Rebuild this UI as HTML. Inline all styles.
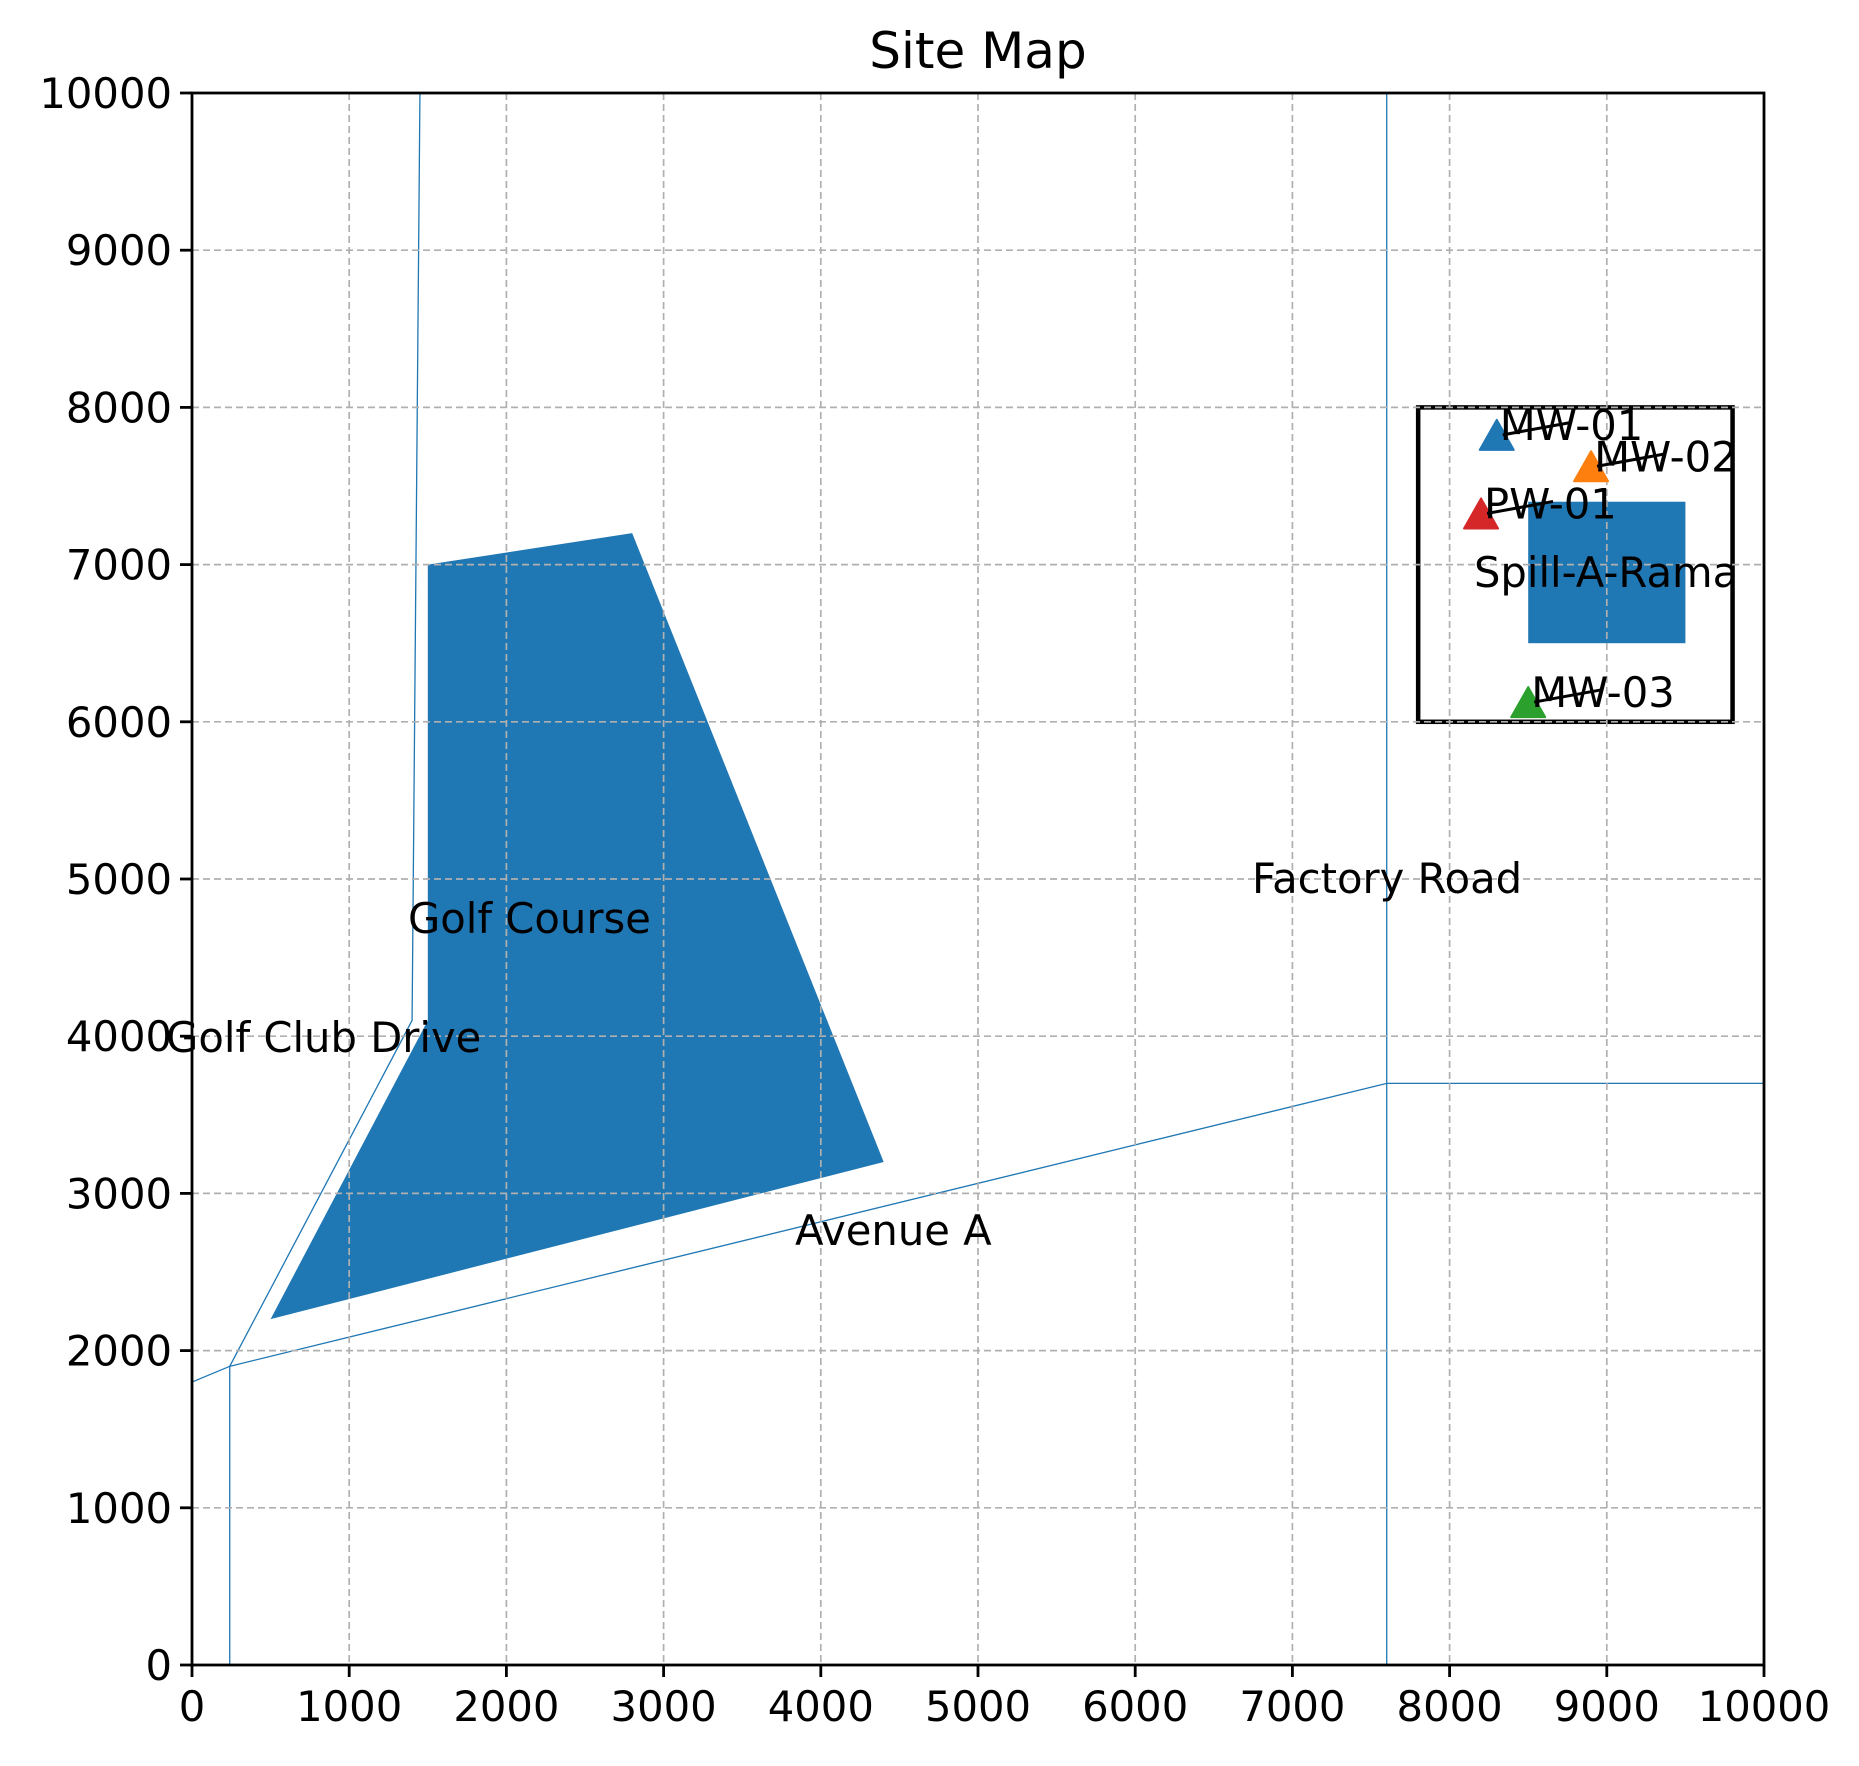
<!DOCTYPE html>
<html><head><meta charset="utf-8"><style>
html,body{margin:0;padding:0;background:#fff;}
svg{display:block;font-family:"DejaVu Sans","Liberation Sans",sans-serif;}
</style></head><body>
<svg id="chart" width="1859" height="1766" viewBox="0 0 1859 1766" xmlns="http://www.w3.org/2000/svg">
<rect width="1859" height="1766" fill="#fff"/>
<text x="978" y="68" font-size="50" text-anchor="middle">Site Map</text>
<g id="layer-patches"></g>
<g id="layer-grid"></g>
<g id="layer-marks"></g>
<g id="layer-axes"></g>
</svg>
<script>
const xTicks = [0,1000,2000,3000,4000,5000,6000,7000,8000,9000,10000];
const yTicks = [0,1000,2000,3000,4000,5000,6000,7000,8000,9000,10000];
const golfCourseX = [1500,2800,4400,500,1500];
const golfCourseY = [7000,7200,3200,2200,4100];
const golfClubDriveX = [1450,1400,240,240];
const golfClubDriveY = [10000,4100,1900,0];
const avenueAX = [0,240,7600,10000];
const avenueAY = [1800,1900,3700,3700];
const factoryRoadX = [7600,7600];
const factoryRoadY = [0,10000];
const siteBox = [7800,6000,9800,8000];
const spillRect = [8500,6500,9500,7400];
const wellNames = ["MW-01","MW-02","PW-01","MW-03"];
const wellX = [8300,8900,8200,8500];
const wellY = [7800,7600,7300,6100];
const wellColors = ["#1f77b4","#ff7f0e","#d62728","#2ca02c"];
const labelText = ["Golf Course","Golf Club Drive","Avenue A","Factory Road","Spill-A-Rama"];
const labelX = [1374,-165,3836,6743,8155];
const labelY = [4752,3995,2767,5006,6952];

const L=192,R=1764,T=93,B=1665;
const X=v=>L+(v/10000)*(R-L);
const Y=v=>B-(v/10000)*(B-T);
const NS="http://www.w3.org/2000/svg";
function mk(tag,parent){const e=document.createElementNS(NS,tag);parent.appendChild(e);return e;}
const gp=document.getElementById('layer-patches'),gg=document.getElementById('layer-grid'),gm=document.getElementById('layer-marks'),ga=document.getElementById('layer-axes');

let p=mk('polygon',gp);
p.setAttribute('points',golfCourseX.map((x,i)=>X(x)+','+Y(golfCourseY[i])).join(' '));
p.setAttribute('fill','#1f77b4');


let s=mk('rect',gp);
s.setAttribute('x',X(spillRect[0]));s.setAttribute('y',Y(spillRect[3]));
s.setAttribute('width',X(spillRect[2])-X(spillRect[0]));s.setAttribute('height',Y(spillRect[1])-Y(spillRect[3]));
s.setAttribute('fill','#1f77b4');


let sb=mk('rect',gp);
sb.setAttribute('x',X(siteBox[0]));sb.setAttribute('y',Y(siteBox[3]));
sb.setAttribute('width',X(siteBox[2])-X(siteBox[0]));sb.setAttribute('height',Y(siteBox[1])-Y(siteBox[3]));
sb.setAttribute('fill','none');sb.setAttribute('stroke','#000');sb.setAttribute('stroke-width','4.5');


function road(xs,ys,name){
  const l=mk('polyline',gp);
  l.setAttribute('points',xs.map((x,i)=>X(x)+','+Y(ys[i])).join(' '));
  l.setAttribute('fill','none');l.setAttribute('stroke','#1f77b4');l.setAttribute('stroke-width','1.3');
  
  
}
road(golfClubDriveX,golfClubDriveY,'golf-club-drive-road');
road(avenueAX,avenueAY,'avenue-a-road');
road(factoryRoadX,factoryRoadY,'factory-road');

xTicks.forEach(t=>{const l=mk('line',gg);l.setAttribute('x1',X(t));l.setAttribute('x2',X(t));l.setAttribute('y1',T);l.setAttribute('y2',B);
l.setAttribute('stroke','#b0b0b0');l.setAttribute('stroke-width','1.7');l.setAttribute('stroke-dasharray','7,4');

});
yTicks.forEach(t=>{const l=mk('line',gg);l.setAttribute('y1',Y(t));l.setAttribute('y2',Y(t));l.setAttribute('x1',L);l.setAttribute('x2',R);
l.setAttribute('stroke','#b0b0b0');l.setAttribute('stroke-width','1.7');l.setAttribute('stroke-dasharray','7,4');

});

wellNames.forEach((n,i)=>{
  const cx=X(wellX[i]),cy=Y(wellY[i]);
  const tr=mk('polygon',gm);
  tr.setAttribute('points',`${cx},${cy-19} ${cx-17},${cy+11} ${cx+17},${cy+11}`);
  tr.setAttribute('fill',wellColors[i]);tr.setAttribute('stroke',wellColors[i]);tr.setAttribute('stroke-width','2');tr.setAttribute('stroke-linejoin','round');
  
  
  const ln=mk('line',gm);
  ln.setAttribute('x1',cx+6);ln.setAttribute('y1',cy-4);ln.setAttribute('x2',cx+72);ln.setAttribute('y2',cy-16);
  ln.setAttribute('stroke','#000');ln.setAttribute('stroke-width','3');
  
  
  const tx=mk('text',gm);
  tx.setAttribute('x',cx+3);tx.setAttribute('y',cy+1);tx.setAttribute('font-size','41.7');
  tx.textContent=n;
  
  
});
labelText.forEach((t,i)=>{
  const tx=mk('text',gm);
  tx.setAttribute('x',X(labelX[i]));tx.setAttribute('y',Y(labelY[i])+15);tx.setAttribute('font-size','41.7');
  tx.textContent=t;
  
  
});

const fr=mk('rect',ga);
fr.setAttribute('x',L);fr.setAttribute('y',T);fr.setAttribute('width',R-L);fr.setAttribute('height',B-T);
fr.setAttribute('fill','none');fr.setAttribute('stroke','#000');fr.setAttribute('stroke-width','2.8');


xTicks.forEach(t=>{
  const l=mk('line',ga);l.setAttribute('x1',X(t));l.setAttribute('x2',X(t));l.setAttribute('y1',B);l.setAttribute('y2',B+12);
  l.setAttribute('stroke','#000');l.setAttribute('stroke-width','2.8');
  
  
  const tx=mk('text',ga);tx.setAttribute('x',X(t));tx.setAttribute('y',B+56);tx.setAttribute('font-size','41.7');tx.setAttribute('text-anchor','middle');
  tx.textContent=t;
  
  
});
yTicks.forEach(t=>{
  const l=mk('line',ga);l.setAttribute('y1',Y(t));l.setAttribute('y2',Y(t));l.setAttribute('x1',L-12);l.setAttribute('x2',L);
  l.setAttribute('stroke','#000');l.setAttribute('stroke-width','2.8');
  
  
  const tx=mk('text',ga);tx.setAttribute('x',L-20);tx.setAttribute('y',Y(t)+15);tx.setAttribute('font-size','41.7');tx.setAttribute('text-anchor','end');
  tx.textContent=t;
  
  
});
</script>
</body></html>
